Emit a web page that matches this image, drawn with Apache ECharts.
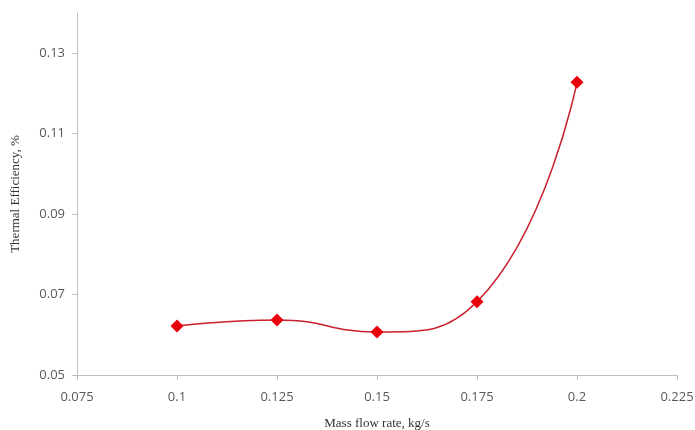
<!DOCTYPE html>
<html><head><meta charset="utf-8">
<script src="https://cdn.jsdelivr.net/npm/echarts@6/dist/echarts.min.js"></script>
<style>html,body{margin:0;padding:0;background:#fff}#c{width:695px;height:430px}</style>
</head><body><div id="c"></div>
<script>
const massFlow = [0.1, 0.125, 0.15, 0.175, 0.2];
const efficiency = [0.0622, 0.0637, 0.0607, 0.0682, 0.1228];
const xName = 'Mass flow rate, kg/s';
const yName = 'Thermal Efficiency, %';

const chart = echarts.init(document.getElementById('c'));
const axisCol = '#bfbfbf';
const labelStyle = {color: '#595959', fontSize: 13, fontFamily: 'Open Sans, sans-serif'};
chart.setOption({
  animation: false,
  grid: {left: 77, right: 18, top: 13, bottom: 55, outerBoundsMode: 'none', containLabel: false},
  xAxis: {
    type: 'value', min: 0.075, max: 0.225, interval: 0.025,
    name: xName, nameLocation: 'middle', nameGap: 42,
    nameTextStyle: {color: '#333', fontSize: 13, fontFamily: 'Liberation Serif, serif'},
    axisLine: {show: true, lineStyle: {color: axisCol}},
    axisTick: {show: true, length: 5, inside: false, lineStyle: {color: axisCol}},
    axisLabel: Object.assign({margin: 16}, labelStyle),
    splitLine: {show: false}
  },
  yAxis: {
    type: 'value', min: 0.05, max: 0.14, interval: 0.02,
    name: yName, nameLocation: 'middle', nameGap: 55,
    nameTextStyle: {color: '#333', fontSize: 13, fontFamily: 'Liberation Serif, serif'},
    axisLine: {show: true, lineStyle: {color: axisCol}},
    axisTick: {show: true, length: 5, lineStyle: {color: axisCol}},
    axisLabel: Object.assign({margin: 12, showMaxLabel: false}, labelStyle),
    splitLine: {show: false}
  },
  series: [{
    type: 'line',
    data: massFlow.map((x, i) => [x, efficiency[i]]),
    smooth: true,
    symbol: 'diamond', symbolSize: 13,
    itemStyle: {color: '#e8000b'},
    lineStyle: {color: '#c8202c', width: 1.5}
  }]
});
</script></body></html>
